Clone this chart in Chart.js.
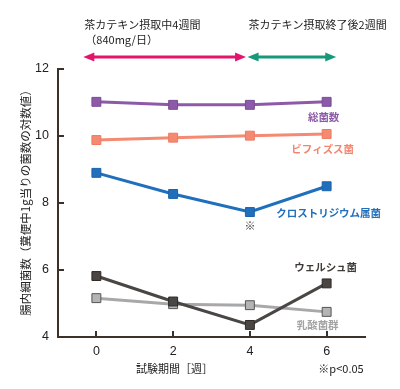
<!DOCTYPE html>
<html>
<head>
<meta charset="utf-8">
<script src="https://cdn.jsdelivr.net/npm/chart.js@4/dist/chart.umd.min.js"></script>
<style>
  html, body { margin: 0; padding: 0; background: #fff; }
  #wrap { width: 400px; height: 389px; }
</style>
</head>
<body>
<div id="wrap"><canvas id="c" width="400" height="389"></canvas></div>
<script>
// weeks of the study
const weeks = [0, 2, 4, 6];
const xTicks = [0, 2, 4, 6];
const yTicks = [4, 6, 8, 10, 12];

// log10 counts per 1g feces
const totalBacteria = [11.02, 10.93, 10.93, 11.02];
const bifidobacterium = [9.88, 9.95, 10.01, 10.06];
const clostridium = [8.9, 8.27, 7.73, 8.5];
const perfringens = [5.82, 5.06, 4.36, 5.6];
const lactobacilli = [5.16, 4.98, 4.95, 4.75];

const seriesNames = ['総菌数', 'ビフィズス菌', 'クロストリジウム属菌', 'ウェルシュ菌', '乳酸菌群'];

// intake period (pink) and follow-up period (green), in weeks
const periods = [
  { label: ['茶カテキン摂取中4週間', '（840mg/日）'], from: -0.34, to: 3.9, color: '#e2146c' },
  { label: ['茶カテキン摂取終了後2週間'], from: 3.94, to: 6.25, color: '#16997a' }
];

const JP = '"Noto Sans CJK JP", "Noto Sans", sans-serif';
const NUM = '"Liberation Sans", Arial, sans-serif';
const axisColor = '#3b3129';

function toPoints(values) {
  return values.map((v, i) => ({ x: weeks[i], y: v }));
}

function makeSet(label, values, color, fill, border) {
  return {
    label: label,
    data: toPoints(values),
    borderColor: color,
    backgroundColor: fill,
    pointBorderColor: border,
    pointBackgroundColor: fill,
    pointStyle: 'rect',
    pointRadius: 6.3,
    pointBorderWidth: 1,
    borderWidth: 3,
    tension: 0
  };
}

// series labels sit to the lower right of the last point
const labelStyles = [
  { color: '#8c5aa8', dx: -3, dy: 15 },
  { color: '#f3866f', dx: -4, dy: 15 },
  { color: '#1f6fbd', dx: 2, dy: 27 },
  { color: '#3e3a38', dx: -1, dy: -16 },
  { color: '#a3a3a3', dx: -9, dy: 13 }
];

const decorations = {
  id: 'decorations',
  afterDraw(chart) {
    const ctx = chart.ctx;
    const xs = chart.scales.x;
    const ys = chart.scales.y;
    const area = chart.chartArea;
    ctx.save();

    // inward tick marks
    ctx.strokeStyle = axisColor;
    ctx.lineWidth = 2;
    yTicks.forEach(v => {
      const y = Math.round(ys.getPixelForValue(v));
      ctx.beginPath();
      ctx.moveTo(area.left, y);
      ctx.lineTo(area.left + 6, y);
      ctx.stroke();
    });
    xTicks.forEach(v => {
      const x = Math.round(xs.getPixelForValue(v));
      ctx.beginPath();
      ctx.moveTo(x, area.bottom);
      ctx.lineTo(x, area.bottom - 6);
      ctx.stroke();
    });

    // period arrows and headings
    periods.forEach(p => {
      const x1 = xs.getPixelForValue(p.from);
      const x2 = xs.getPixelForValue(p.to);
      const y = 57;
      ctx.strokeStyle = p.color;
      ctx.fillStyle = p.color;
      ctx.lineWidth = 3;
      ctx.beginPath();
      ctx.moveTo(x1 + 6, y);
      ctx.lineTo(x2 - 6, y);
      ctx.stroke();
      [[x1, 1], [x2, -1]].forEach(([x, d]) => {
        ctx.beginPath();
        ctx.moveTo(x, y);
        ctx.lineTo(x + d * 11, y - 4.5);
        ctx.lineTo(x + d * 11, y + 4.5);
        ctx.closePath();
        ctx.fill();
      });
      ctx.fillStyle = '#222';
      ctx.font = '11px ' + JP;
      ctx.textAlign = 'left';
      ctx.textBaseline = 'middle';
      p.label.forEach((line, i) => {
        ctx.fillText(line, x1 + (i ? 2 : 1), 25 + i * 15);
      });
    });

    // series names
    chart.data.datasets.forEach((ds, i) => {
      const last = ds.data[ds.data.length - 1];
      const st = labelStyles[i];
      const x = xs.getPixelForValue(last.x) + st.dx;
      const y = ys.getPixelForValue(last.y) + st.dy;
      ctx.fillStyle = st.color;
      ctx.font = 'bold 10.5px ' + JP;
      ctx.textAlign = 'center';
      ctx.textBaseline = 'middle';
      ctx.fillText(seriesNames[i], x, y);
    });

    // significance mark under clostridium week 4
    ctx.fillStyle = '#333';
    ctx.font = '11px ' + JP;
    ctx.textAlign = 'center';
    ctx.fillText('※', xs.getPixelForValue(4), ys.getPixelForValue(clostridium[2]) + 14);

    // axis titles and footnote
    ctx.fillStyle = '#222';
    ctx.font = '11px ' + JP;
    ctx.fillText('試験期間［週］', (area.left + area.right) / 2 - 37, 369);
    ctx.fillText('※p<0.05', 341, 369);

    ctx.translate(26, (area.top + area.bottom) / 2 - 3);
    ctx.rotate(-Math.PI / 2);
    ctx.font = '11.5px ' + JP;
    ctx.fillText('腸内細菌数（糞便中1g当りの菌数の対数値）', 0, 0);

    ctx.restore();
  }
};

new Chart(document.getElementById('c').getContext('2d'), {
  type: 'line',
  data: {
    datasets: [
      makeSet(seriesNames[0], totalBacteria, '#8c5aa8', '#8c5aa8', '#7a4a96'),
      makeSet(seriesNames[1], bifidobacterium, '#f58a72', '#f58a72', '#ef7a62'),
      makeSet(seriesNames[2], clostridium, '#1f6fbd', '#1f6fbd', '#1a62aa'),
      makeSet(seriesNames[3], perfringens, '#4a4644', '#4a4644', '#2f2b29'),
      makeSet(seriesNames[4], lactobacilli, '#a8a8a8', '#b4b4b4', '#555')
    ]
  },
  options: {
    responsive: false,
    animation: false,
    layout: { padding: { left: 20, top: 69, right: 35, bottom: 30 } },
    plugins: {
      legend: { display: false },
      tooltip: { enabled: false }
    },
    scales: {
      x: {
        type: 'linear',
        min: -1,
        max: 7,
        afterBuildTicks(scale) { scale.ticks = xTicks.map(v => ({ value: v })); },
        afterFit(scale) { scale.height = 22; },
        grid: { display: false, drawTicks: false },
        border: { display: true, color: axisColor, width: 2 },
        ticks: { color: '#222', font: { family: NUM, size: 12.5 }, padding: 7 }
      },
      y: {
        min: 4,
        max: 12,
        afterBuildTicks(scale) { scale.ticks = yTicks.map(v => ({ value: v })); },
        afterFit(scale) { scale.width = 38; },
        grid: { display: false, drawTicks: false },
        border: { display: true, color: axisColor, width: 2 },
        ticks: { color: '#222', font: { family: NUM, size: 12.5 }, padding: 9 }
      }
    }
  },
  plugins: [decorations]
});
</script>
</body>
</html>
